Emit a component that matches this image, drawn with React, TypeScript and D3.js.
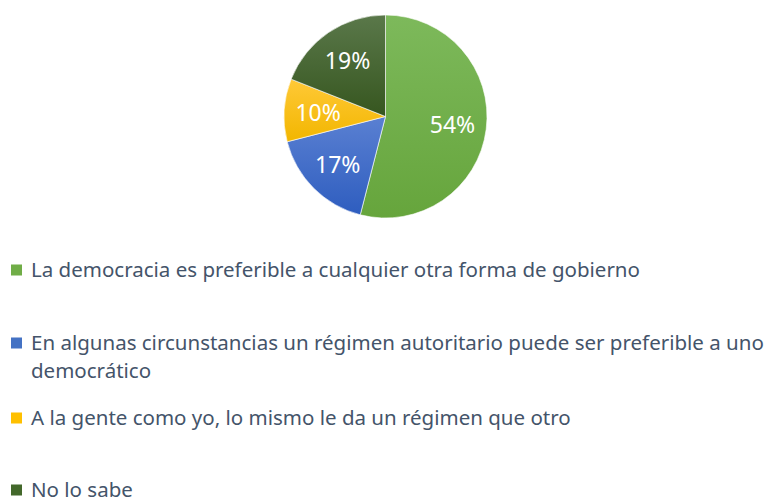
import React from "react";
import * as d3 from "d3";

const categories = [
  "La democracia es preferible a cualquier otra forma de gobierno",
  "En algunas circunstancias un régimen autoritario puede ser preferible a uno democrático",
  "A la gente como yo, lo mismo le da un régimen que otro",
  "No lo sabe",
];
const values = [54, 17, 10, 19];
const legendLines = [
  ["La democracia es preferible a cualquier otra forma de gobierno"],
  ["En algunas circunstancias un régimen autoritario puede ser preferible a uno", "democrático"],
  ["A la gente como yo, lo mismo le da un régimen que otro"],
  ["No lo sabe"],
];
const colorsTop = ["#7DB95B", "#5A80D2", "#FFC937", "#5A784A"];
const colorsBottom = ["#66A53C", "#2E5DBF", "#F2B600", "#36561F"];
const swatch = ["#70AD47", "#4472C4", "#FFC000", "#43682B"];

export default function App() {
  const W = 771, H = 500;
  const cx = 385.5, cy = 116.5, R = 101.5;
  const pie = d3.pie<number>().sort(null).value((d) => d);
  const arcs = pie(values);
  const arc = d3.arc<d3.PieArcDatum<number>>().innerRadius(0).outerRadius(R);
  const labelR = 67.5;
  const labelArc = d3.arc<d3.PieArcDatum<number>>().innerRadius(labelR * 2 - R).outerRadius(R);
  const font = "'Noto Sans', 'Open Sans', sans-serif";
  const rowY = [277, 350, 425, 497];
  return (
    <svg width={W} height={H} style={{ position: "absolute", left: 0, top: 0, background: "#fff" }}>
      <defs>
        {arcs.map((a, i) => (
          <linearGradient key={i} id={`g${i}`} x1="0" y1="0" x2="0" y2="1">
            <stop offset="0" stopColor={colorsTop[i]} />
            <stop offset="1" stopColor={colorsBottom[i]} />
          </linearGradient>
        ))}
      </defs>
      <g transform={`translate(${cx},${cy})`}>
        {arcs.map((a, i) => (
          <path key={i} d={arc(a) || ""} fill={`url(#g${i})`} stroke="#ffffff" strokeWidth={0.6} />
        ))}
        {arcs.map((a, i) => {
          const [x, y] = labelArc.centroid(a);
          return (
            <text key={i} x={x} y={y} dy="0.36em" textAnchor="middle" fill="#ffffff"
              fontFamily={font} fontSize={23}>
              {`${values[i]}%`}
            </text>
          );
        })}
      </g>
      {categories.map((c, i) => (
        <g key={i}>
          <rect x={11} y={rowY[i] - 12.5} width={11} height={11} fill={swatch[i]} />
          {legendLines[i].map((ln, j) => (
            <text key={j} x={31} y={rowY[i] + j * 28} fill="#44546A" fontFamily={font} fontSize={20.5}>
              {ln}
            </text>
          ))}
        </g>
      ))}
    </svg>
  );
}
